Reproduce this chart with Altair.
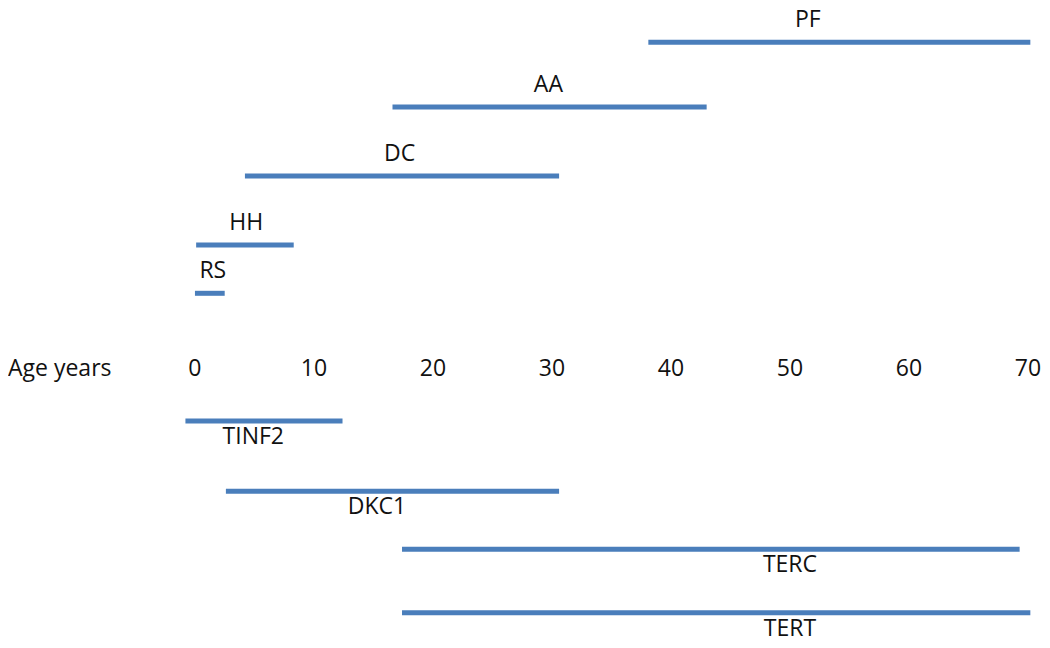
import altair as alt
import pandas as pd

# Disorders (above the age axis) and genes (below), onset age ranges in years
names = ["PF", "AA", "DC", "HH", "RS", "TINF2", "DKC1", "TERC", "TERT"]
groups = ["disorder"] * 5 + ["gene"] * 4
start_age = [38.1, 16.6, 4.2, 0.1, 0.0, -0.8, 2.6, 17.4, 17.4]
end_age = [70.2, 43.0, 30.6, 8.3, 2.5, 12.4, 30.6, 69.3, 70.2]
label_age = [51.5, 29.7, 17.2, 4.3, 1.5, 4.9, 15.3, 50.0, 50.0]
row_level = [8.94, 8.0, 7.0, 6.0, 5.3, 3.45, 2.43, 1.59, 0.67]

tick_values = [0, 10, 20, 30, 40, 50, 60, 70]
axis_level = 4.2
axis_title = "Age years"

bars = pd.DataFrame({
    "name": names, "group": groups, "start": start_age, "end": end_age,
    "label": label_age, "level": row_level,
})
ticks = pd.DataFrame({"tick": tick_values, "level": [axis_level] * len(tick_values)})
title_df = pd.DataFrame({"text": [axis_title], "level": [axis_level]})

xs = alt.Scale(domain=[-15.71, 71.18], nice=False, zero=False)
ys = alt.Scale(domain=[0.275, 9.435], nice=False, zero=False)
FONT = "Open Sans"
FS = 23
BLUE = "#4a7ebb"
INK = "#111111"

base = alt.Chart(bars)

rules = base.mark_rule(strokeWidth=5, color=BLUE, strokeCap="butt").encode(
    x=alt.X("start:Q", scale=xs, axis=None),
    x2="end:Q",
    y=alt.Y("level:Q", scale=ys, axis=None),
)

top_labels = base.transform_filter(alt.datum.group == "disorder").mark_text(
    font=FONT, fontSize=FS, color=INK, baseline="alphabetic", align="center", dy=-15
).encode(
    x=alt.X("label:Q", scale=xs, axis=None),
    y=alt.Y("level:Q", scale=ys, axis=None),
    text="name:N",
)

bottom_labels = base.transform_filter(alt.datum.group == "gene").mark_text(
    font=FONT, fontSize=FS, color=INK, baseline="alphabetic", align="center", dy=23
).encode(
    x=alt.X("label:Q", scale=xs, axis=None),
    y=alt.Y("level:Q", scale=ys, axis=None),
    text="name:N",
)

tick_text = alt.Chart(ticks).mark_text(
    font=FONT, fontSize=FS, color=INK, baseline="middle", align="center"
).encode(
    x=alt.X("tick:Q", scale=xs, axis=None),
    y=alt.Y("level:Q", scale=ys, axis=None),
    text=alt.Text("tick:Q"),
)

title_text = alt.Chart(title_df).mark_text(
    font=FONT, fontSize=FS, color=INK, baseline="middle", align="left"
).encode(
    x=alt.value(0),
    y=alt.Y("level:Q", scale=ys, axis=None),
    text="text:N",
)

chart = alt.layer(rules, top_labels, bottom_labels, tick_text, title_text).properties(
    width=1034, height=632, padding=0, background="white",
    autosize=alt.AutoSizeParams(type="none")
).configure_view(stroke=None)

chart.save("out.html", embed_options={"renderer": "svg", "actions": False})
